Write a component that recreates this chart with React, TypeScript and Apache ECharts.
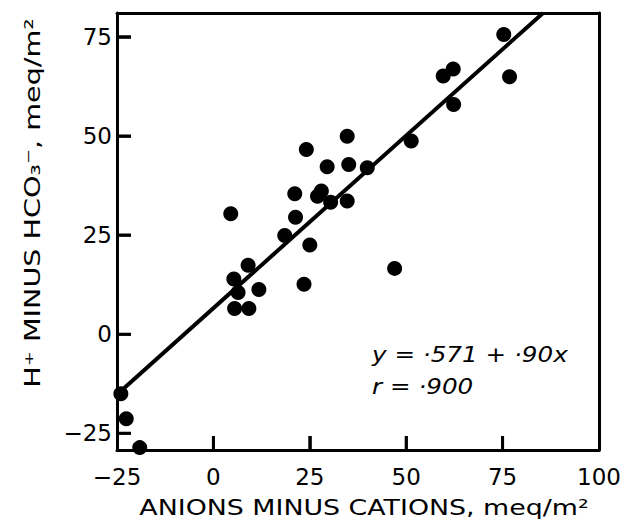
import React, { useEffect, useRef } from "react";
import * as echarts from "echarts";

const xValues = [75.3, 76.8, 59.6, 62.2, 62.3, 51.3, 34.7, 24.1, 29.5, 35.1, 39.9, 21.1, 28.0, 27.0, 30.4, 34.7, 21.3, 4.5, 18.5, 25.0, 47.0, 9.0, 5.3, 23.5, 6.4, 11.8, 5.5, 9.2, -24.0, -22.6, -19.1];
const yValues = [75.6, 64.9, 65.1, 66.9, 57.9, 48.7, 49.9, 46.6, 42.2, 42.8, 42.0, 35.4, 36.1, 34.8, 33.3, 33.6, 29.5, 30.4, 24.9, 22.5, 16.6, 17.4, 13.9, 12.6, 10.5, 11.3, 6.5, 6.5, -15.0, -21.3, -28.6];
const fitX = [-25, 85.5];
const fitY = [-15.2, 81];
const xTicks = [-25, 0, 25, 50, 75, 100];
const yTicks = [-25, 0, 25, 50, 75];
const X_MIN = -25, X_MAX = 100, Y_MIN = -29.2, Y_MAX = 81;
const xTitle = "ANIONS MINUS CATIONS, meq/m²";
const yTitle = "H⁺ MINUS HCO₃⁻, meq/m²";
const eqLine1 = "y = ·571 + ·90x";
const eqLine2 = "r = ·900";

export default function App() {
  const ref = useRef<HTMLDivElement>(null);
  useEffect(() => {
    if (!ref.current) return;
    const chart = echarts.init(ref.current, null, { renderer: "svg" });
    const font = "DejaVu Sans";
    const fmt = (v: number) => (v < 0 ? "−" + Math.abs(v) : String(v));
    const GRID_W = 482, GRID_H = 437, TICK = 14;
    const tickDX = (TICK / GRID_W) * (X_MAX - X_MIN);
    const tickDY = (TICK / GRID_H) * (Y_MAX - Y_MIN);
    const xTickData: any[] = [];
    xTicks.slice(1, -1).forEach((v) => { xTickData.push([v, Y_MIN], [v, Y_MIN + tickDY], "-"); });
    const yTickData: any[] = [];
    yTicks.forEach((v) => { yTickData.push([X_MIN, v], [X_MIN + tickDX, v], "-"); });
    chart.setOption({
      animation: false,
      backgroundColor: "#ffffff",
      grid: {
        left: 117, top: 13, width: GRID_W, height: GRID_H,
        show: false,
      },
      xAxis: [
        {
          type: "value", min: X_MIN, max: X_MAX, interval: 25, position: "bottom",
          axisLine: { show: true, onZero: false, lineStyle: { color: "#000", width: 3 } },
          axisTick: { show: true, inside: true, length: TICK, lineStyle: { color: "#000", width: 2.5 } },
          axisLabel: { show: true, margin: 15, color: "#000", fontSize: 23, fontFamily: font, formatter: fmt },
          splitLine: { show: false },
        },
        {
          type: "value", min: X_MIN, max: X_MAX, position: "top",
          axisLine: { show: true, onZero: false, lineStyle: { color: "#000", width: 3 } },
          axisTick: { show: false }, axisLabel: { show: false }, splitLine: { show: false },
        },
      ],
      yAxis: [
        {
          type: "value", min: Y_MIN, max: Y_MAX, position: "left",
          axisLine: { show: true, onZero: false, lineStyle: { color: "#000", width: 3 } },
          axisTick: { show: true, inside: true, length: TICK, lineStyle: { color: "#000", width: 2.5 }, customValues: yTicks },
          axisLabel: { margin: 5, color: "#000", fontSize: 23, fontFamily: font, customValues: yTicks, formatter: fmt },
          splitLine: { show: false },
        },
        {
          type: "value", min: Y_MIN, max: Y_MAX, position: "right",
          axisLine: { show: true, onZero: false, lineStyle: { color: "#000", width: 3 } },
          axisTick: { show: false }, axisLabel: { show: false }, splitLine: { show: false },
        },
      ],
      series: [
        {
          type: "line",
          data: fitX.map((x, i) => [x, fitY[i]]),
          symbol: "none",
          lineStyle: { color: "#000", width: 4 },
          clip: true,
          z: 2,
        },
        {
          type: "scatter",
          data: xValues.map((x, i) => [x, yValues[i]]),
          symbol: "circle",
          symbolSize: 15,
          itemStyle: { color: "#000", opacity: 1 },
          clip: false,
          z: 3,
        },
        {
          type: "line", silent: true, symbol: "none", clip: false, z: 4, connectNulls: false,
          data: xTickData,
          lineStyle: { color: "#000", width: 3 },
        },
        {
          type: "line", silent: true, symbol: "none", clip: false, z: 4, connectNulls: false,
          data: yTickData,
          lineStyle: { color: "#000", width: 3 },
        },
      ],
      graphic: [
        {
          type: "text", x: 364, y: 518, scaleX: 1.22,
          style: { text: xTitle, font: `22px '${font}'`, fill: "#000", textAlign: "center", textVerticalAlign: "bottom" },
          z: 10,
        },
        {
          type: "text", x: 32, y: 203, rotation: Math.PI / 2, scaleX: 1.3,
          style: { text: yTitle, font: `22px '${font}'`, fill: "#000", textAlign: "center", textVerticalAlign: "middle" },
          z: 10,
        },
        {
          type: "text", x: 372, y: 343, scaleX: 1.12,
          style: { text: eqLine1, font: `italic 22px '${font}'`, fill: "#000", textAlign: "left", textVerticalAlign: "top" },
          z: 10,
        },
        {
          type: "text", x: 372, y: 375, scaleX: 1.12,
          style: { text: eqLine2, font: `italic 22px '${font}'`, fill: "#000", textAlign: "left", textVerticalAlign: "top" },
          z: 10,
        },
      ],
    });
    return () => chart.dispose();
  }, []);
  return <div ref={ref} style={{ position: "fixed", left: 0, top: 0, width: 640, height: 530 }} />;
}
